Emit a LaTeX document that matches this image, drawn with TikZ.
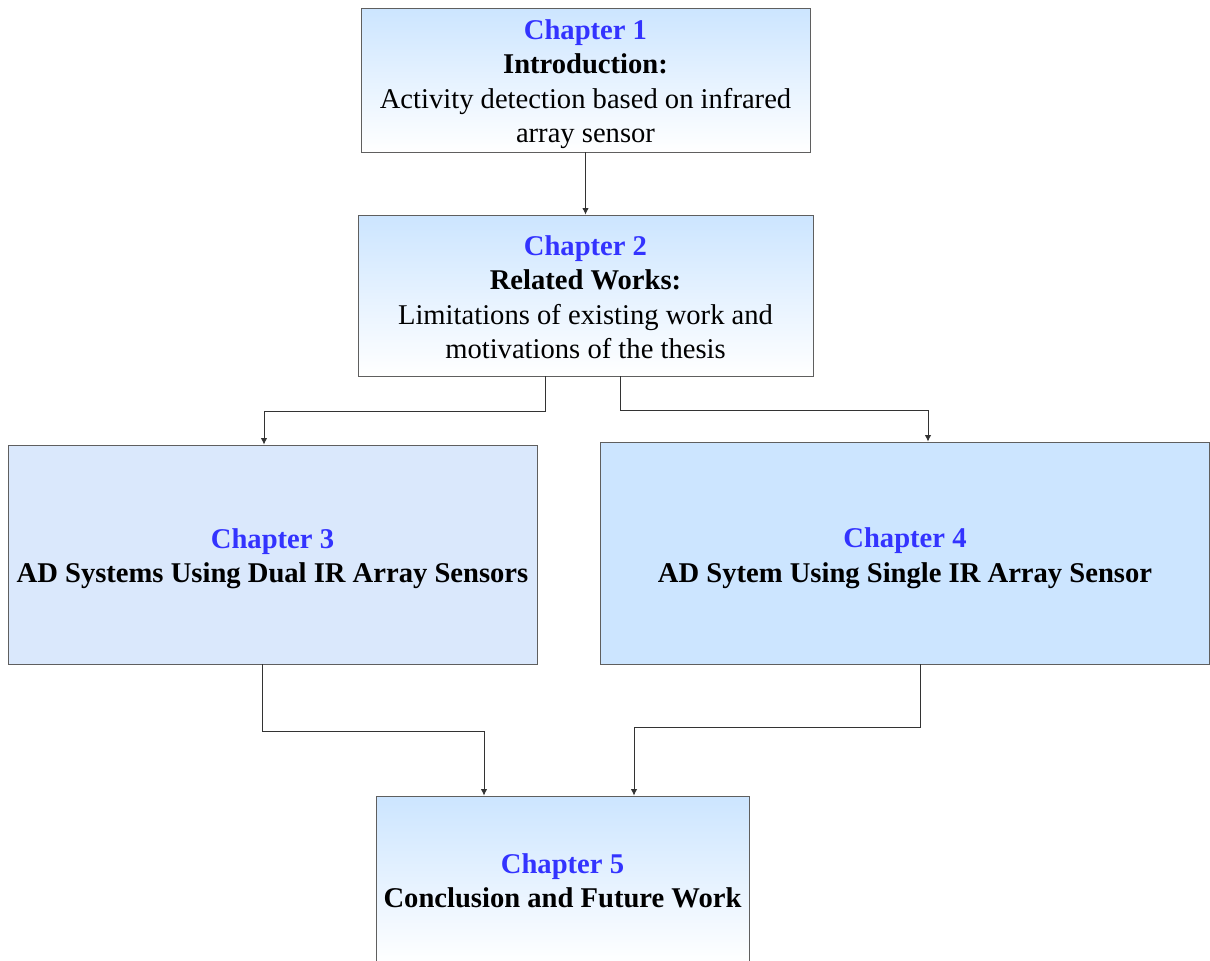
\documentclass[tikz,border=0pt]{standalone}
\usepackage{fontspec}
\setmainfont{Liberation Serif}
\usetikzlibrary{arrows.meta}
\definecolor{chapblue}{HTML}{3333FF}
\definecolor{boxtop}{HTML}{CCE5FF}
\definecolor{boxfill}{HTML}{DAE8FC}
\definecolor{boxline}{HTML}{5F5F5F}
\tikzset{
  chapbox/.style={draw=boxline, line width=0.9pt, inner sep=0pt},
  fadebox/.style={chapbox, top color=boxtop, bottom color=white},
  chaptext/.style={align=center, inner sep=0pt, font=\fontsize{28.6}{34.5}\selectfont},
  link/.style={draw=black!80, line width=0.9pt, -{Latex[length=6.5pt,width=6.5pt]}}
}
\newcommand{\chap}[1]{\textcolor{chapblue}{\textbf{Chapter #1}}}

\begin{document}
\begin{tikzpicture}[x=1pt, y=-1pt]
			%%%%% FRAME %%%%%
			\useasboundingbox (0,0) rectangle (1210,961);
			\clip (0,0) rectangle (1210,961);
			
			%%%%% BOXES %%%%%
			\node[fadebox, minimum width=449pt, minimum height=144pt,
				label={[chaptext, yshift=-4pt]center:\chap{1}\\ \textbf{Introduction:}\\ Activity detection based on infrared\\ array sensor}]
				(ch1) at (585.5, 80) {};
			
			\node[fadebox, minimum width=455pt, minimum height=161pt,
				label={[chaptext, yshift=-1.5pt]center:\chap{2}\\ \textbf{Related Works:}\\ Limitations of existing work and\\ motivations of the thesis}]
				(ch2) at (585.5, 295.5) {};
			
			\node[chapbox, fill=boxfill, minimum width=529pt, minimum height=219pt,
				label={[chaptext, yshift=-4pt]center:\chap{3}\\ \textbf{AD Systems Using Dual IR Array Sensors}}]
				(ch3) at (272.5, 554.5) {};
			
			\node[chapbox, fill=boxtop, minimum width=609pt, minimum height=222pt,
				label={[chaptext, yshift=-5pt]center:\chap{4}\\ \textbf{AD Sytem Using Single IR Array Sensor}}]
				(ch4) at (905, 553) {};
			
			\node[fadebox, minimum width=373pt, minimum height=168pt,
				label={[chaptext, yshift=-1pt]center:\chap{5}\\ \textbf{Conclusion and Future Work}}]
				(ch5) at (562.5, 880) {};
			
			%%%%% LINKS %%%%%
			\draw[link] (ch1.south) -- (ch2.north);
			\draw[link] ([xshift=-40.5pt]ch2.south) -- ++(0,35) -| ([xshift=-8.5pt]ch3.north);
			\draw[link] ([xshift=34.5pt]ch2.south) -- ++(0,34) -| ([xshift=23pt]ch4.north);
			\draw[link] ([xshift=-10.5pt]ch3.south) -- ++(0,67) -| ([xshift=-78.5pt]ch5.north);
			\draw[link] ([xshift=15pt]ch4.south) -- ++(0,63) -| ([xshift=71.5pt]ch5.north);
		\end{tikzpicture}
\end{document}
